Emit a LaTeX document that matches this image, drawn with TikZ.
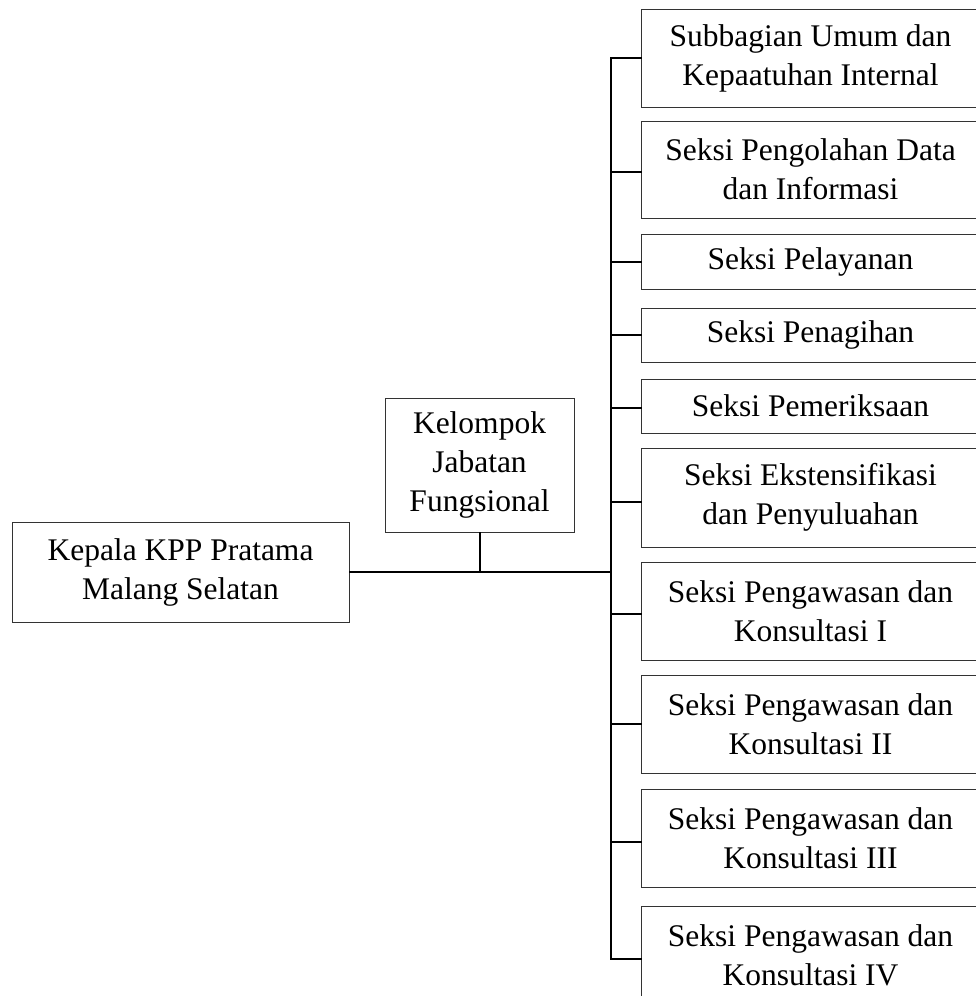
\documentclass[tikz,border=0pt]{standalone}
\usepackage{fontspec}
\setmainfont{Liberation Serif}[Ligatures=NoCommon]
\begin{document}
\begin{tikzpicture}[x=1pt,y=-1pt,
  box/.style={draw=black!80, line width=1pt, inner sep=0pt, align=center,
    font=\fontsize{31.5}{39}\selectfont},
  rbox/.style={box, minimum width=339pt},
  conn/.style={draw=black, line width=2pt, line cap=rect}]
\useasboundingbox (0,0) rectangle (975,996);
\node[box, minimum width=337pt, minimum height=100pt] (kepala) at (180.5,572) {Kepala KPP Pratama\\Malang Selatan};
\node[box, minimum width=189pt, minimum height=134pt] (kelompok) at (479.5,465) {Kelompok\\Jabatan\\Fungsional};
\node[rbox, minimum height=98pt] (b1) at (810.5,58) {Subbagian Umum dan\\Kepaatuhan Internal};
\node[rbox, minimum height=97pt] (b2) at (810.5,169.5) {Seksi Pengolahan Data\\dan Informasi};
\node[rbox, minimum height=55pt] (b3) at (810.5,261.5) {Seksi Pelayanan};
\node[rbox, minimum height=54pt] (b4) at (810.5,335) {Seksi Penagihan};
\node[rbox, minimum height=54pt] (b5) at (810.5,406) {Seksi Pemeriksaan};
\node[rbox, minimum height=99pt] (b6) at (810.5,497.5) {Seksi Ekstensifikasi\\dan Penyuluahan};
\node[rbox, minimum height=98pt] (b7) at (810.5,611) {Seksi Pengawasan dan\\Konsultasi I};
\node[rbox, minimum height=98pt] (b8) at (810.5,724) {Seksi Pengawasan dan\\Konsultasi II};
\node[rbox, minimum height=98pt] (b9) at (810.5,838) {Seksi Pengawasan dan\\Konsultasi III};
\node[rbox, minimum height=98pt] (b10) at (810.5,955) {Seksi Pengawasan dan\\Konsultasi IV};
\coordinate (trunk) at (611,572);
% trunk
\draw[conn] (b1.west -| trunk) -- ([yshift=-4pt]b10.west -| trunk);
% ticks
\draw[conn] (b1.west) -- (b1.west -| trunk);
\draw[conn] ([yshift=-2.5pt]b2.west) -- ([yshift=-2.5pt]b2.west -| trunk);
\draw[conn] (b3.west) -- (b3.west -| trunk);
\draw[conn] (b4.west) -- (b4.west -| trunk);
\draw[conn] ([yshift=-2pt]b5.west) -- ([yshift=-2pt]b5.west -| trunk);
\draw[conn] ([yshift=-4.5pt]b6.west) -- ([yshift=-4.5pt]b6.west -| trunk);
\draw[conn] ([yshift=-3pt]b7.west) -- ([yshift=-3pt]b7.west -| trunk);
\draw[conn] (b8.west) -- (b8.west -| trunk);
\draw[conn] ([yshift=-4pt]b9.west) -- ([yshift=-4pt]b9.west -| trunk);
\draw[conn] ([yshift=-4pt]b10.west) -- ([yshift=-4pt]b10.west -| trunk);
% main line
\draw[conn] (kepala.east) -- (kepala.east -| trunk);
\draw[conn] (kelompok.south) -- (kelompok.south |- kepala.east);
\end{tikzpicture}
\end{document}
